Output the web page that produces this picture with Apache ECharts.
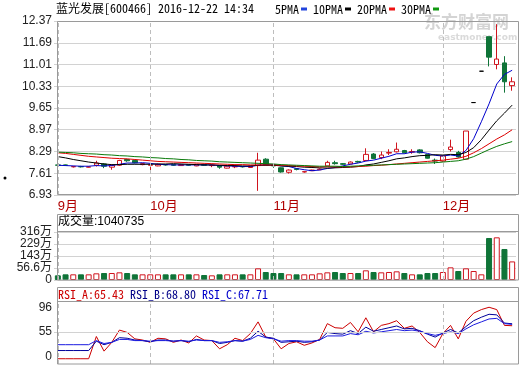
<!DOCTYPE html>
<html><head><meta charset="utf-8">
<script src="https://cdn.jsdelivr.net/npm/echarts@6/dist/echarts.min.js"></script>
<style>html,body{margin:0;padding:0;background:#fff}#c{width:520px;height:365px}</style>
</head><body><div id="c"></div>
<script>
const dates = [
 '2016-09-13','2016-09-14','2016-09-19','2016-09-20','2016-09-21','2016-09-22','2016-09-23','2016-09-26','2016-09-27','2016-09-28','2016-09-29','2016-09-30',
 '2016-10-10','2016-10-11','2016-10-12','2016-10-13','2016-10-14','2016-10-17','2016-10-18','2016-10-19','2016-10-20','2016-10-21','2016-10-24','2016-10-25','2016-10-26','2016-10-27','2016-10-28','2016-10-31',
 '2016-11-01','2016-11-02','2016-11-03','2016-11-04','2016-11-07','2016-11-08','2016-11-09','2016-11-10','2016-11-11','2016-11-14','2016-11-15','2016-11-16','2016-11-17','2016-11-18','2016-11-21','2016-11-22','2016-11-23','2016-11-24','2016-11-25','2016-11-28','2016-11-29','2016-11-30',
 '2016-12-09','2016-12-12','2016-12-13','2016-12-14','2016-12-15','2016-12-16','2016-12-19','2016-12-20','2016-12-21','2016-12-22'];
const openP  = [7.87,7.87,7.81,7.82,7.80,7.86,7.90,7.80,7.86,8.04, 8.01,7.88,7.86,7.84,7.88,7.88,7.85,7.88,7.84,7.88, 7.85,7.85,7.77,7.81,7.82,7.79,7.85,8.05,7.87,7.78, 7.64,7.75,7.65,7.69,7.72,7.84,7.94,7.91,7.90,7.98, 8.01,8.21,8.10,8.24,8.28,8.32,8.27,8.34,8.20,8.02, 7.99,8.35,8.26,8.05,9.82,10.80,11.88,11.01,11.06,10.35];
const closeP = [7.86,7.86,7.82,7.81,7.81,7.93,7.83,7.86,8.01,8.00, 7.94,7.91,7.87,7.89,7.87,7.86,7.88,7.86,7.89,7.86, 7.86,7.80,7.83,7.82,7.81,7.84,8.02,7.87,7.84,7.65, 7.71,7.73,7.66,7.71,7.74,7.95,7.91,7.89,7.96,7.96, 8.20,8.07,8.18,8.26,8.36,8.25,8.29,8.25,8.08,7.99, 8.15,8.43,8.12,8.93,9.82,10.80,11.24,11.18,10.47,10.47];
const lowP   = [7.84,7.84,7.79,7.79,7.79,7.82,7.77,7.72,7.84,7.97, 7.92,7.86,7.65,7.83,7.85,7.84,7.84,7.84,7.83,7.85, 7.80,7.75,7.76,7.77,7.79,7.78,7.06,7.86,7.78,7.63, 7.60,7.70,7.63,7.68,7.71,7.83,7.88,7.87,7.89,7.94, 7.99,8.05,8.05,8.18,8.26,8.23,8.22,8.23,8.07,7.90, 7.97,8.29,8.10,8.04,9.82,10.80,10.95,10.86,10.13,10.19];
const highP  = [7.88,7.88,7.84,7.84,7.83,8.00,7.92,7.88,8.03,8.06, 8.03,7.93,7.87,7.91,7.89,7.89,7.90,7.89,7.90,7.89, 7.88,7.86,7.84,7.84,7.83,7.85,8.25,8.08,7.88,7.79, 7.73,7.77,7.67,7.72,7.76,8.00,8.00,7.93,7.98,8.00, 8.39,8.24,8.29,8.36,8.57,8.34,8.36,8.36,8.21,8.07, 8.16,8.66,8.31,8.93,9.82,10.80,11.88,12.27,11.27,10.61];
const volume = [3.7,10.9,10.9,10.9,10.9,18.1,20.5,20.5,25.3,20.5, 10.9,10.9,10.9,10.9,10.9,10.9,10.9,10.9,10.9,6.1, 3.7,10.9,10.9,10.9,10.9,10.9,54.1,27.7,20.5,20.5, 10.9,10.9,10.9,10.9,18.1,25.3,27.7,20.5,20.5,20.5, 39.7,27.7,25.3,27.7,32.5,20.5,10.9,10.9,20.5,20.5, 27.7,61.3,34.9,54.1,34.9,10.9,272.8,277.6,193.5,104.0735];
const ma5  = [7.86,7.85,7.84,7.83,7.83,7.85,7.84,7.85,7.89,7.93, 7.93,7.94,7.92,7.89,7.88,7.87,7.87,7.87,7.87,7.87, 7.87,7.85,7.84,7.83,7.82,7.82,7.86,7.87,7.88,7.84, 7.82,7.76,7.72,7.69,7.71,7.76,7.79,7.84,7.89,7.93, 7.99,8.02,8.08,8.14,8.22,8.22,8.27,8.28,8.23,8.17, 8.15,8.18,8.15,8.32,8.69,9.22,9.78,10.40,10.70,10.83];
const ma10 = [8.13,8.09,8.04,8.00,7.96,7.93,7.90,7.88,7.88,7.89, 7.89,7.89,7.89,7.90,7.90,7.91,7.90,7.89,7.88,7.87, 7.87,7.86,7.85,7.85,7.84,7.84,7.86,7.86,7.86,7.84, 7.83,7.82,7.80,7.79,7.78,7.77,7.78,7.79,7.80,7.82, 7.87,7.90,7.95,8.00,8.06,8.09,8.13,8.16,8.17,8.19, 8.18,8.20,8.19,8.26,8.41,8.66,8.96,9.25,9.49,9.74];
const ma20 = [8.25,8.23,8.20,8.17,8.14,8.12,8.10,8.08,8.07,8.06, 8.04,8.02,8.00,7.98,7.97,7.96,7.95,7.94,7.93,7.92, 7.91,7.90,7.89,7.88,7.88,7.87,7.87,7.87,7.87,7.86, 7.85,7.84,7.83,7.82,7.81,7.81,7.81,7.81,7.81,7.82, 7.83,7.85,7.86,7.88,7.90,7.92,7.94,7.96,7.98,8.00, 8.02,8.05,8.08,8.14,8.25,8.38,8.53,8.68,8.81,8.97];
const ma30 = [8.27,8.26,8.25,8.23,8.22,8.21,8.19,8.18,8.16,8.15, 8.13,8.12,8.10,8.09,8.07,8.06,8.04,8.03,8.01,8.00, 7.99,7.97,7.96,7.95,7.94,7.93,7.92,7.91,7.90,7.88, 7.87,7.86,7.85,7.84,7.83,7.83,7.83,7.82,7.83,7.84, 7.85,7.86,7.87,7.88,7.89,7.90,7.91,7.92,7.93,7.94, 7.96,7.98,8.00,8.05,8.13,8.24,8.35,8.45,8.53,8.60];
const rsiA = [9,9,9,9,9,47,22,37,58,54, 43,41,37,44,43,37,41,36,48,41, 40,26,33,44,40,52,72,46,43,26, 35,38,32,36,42,69,62,61,71,55, 79,55,66,69,74,61,65,54,38,28, 52,66,43,73,87,93,97,93,66,65.43];
const rsiB = [23,23,23,23,23,39,33,37,45,44, 41,40,38,41,41,39,40,38,42,40, 40,35,37,40,39,44,56,46,44,37, 38,39,37,38,41,54,52,51,57,52, 63,56,59,62,65,60,61,57,51,46, 53,59,53,64,74,80,85,84,70,68.80];
const rsiC = [33,33,33,33,33,40,35,37,42,42, 40,40,39,40,40,39,40,39,41,40, 40,37,38,40,39,42,49,45,43,39, 40,40,39,39,41,48,48,48,52,50, 56,53,55,57,59,57,58,56,52,49, 52,55,52,60,67,72,77,78,69,67.71];
const priceTicks = [6.93,7.61,8.29,8.97,9.65,10.33,11.01,11.69,12.37];
const volTicks = [-29.9,56.6,143,229,316];
const rsiTicks = [0,55,96];
const monthStarts = ['2016-09-13','2016-10-10','2016-11-01','2016-12-09'];
const monthLabels = ['9月','10月','11月','12月'];

const RED = '#d0141e', GREEN = '#0f7438', GRID = '#d2d2d2', FRAME = '#9a9a9a';
const MONO = "'Noto Sans Mono CJK SC','DejaVu Sans Mono',monospace";
const SANS = "'Liberation Sans','Noto Sans CJK SC',sans-serif";

const candleData = dates.map((d, i) => {
  const o = openP[i], c = closeP[i];
  const item = { value: [o, c, lowP[i], highP[i]] };
  if (o === c) item.itemStyle = { color: '#000', borderColor: '#000', color0: '#000', borderColor0: '#000' };
  return item;
});
const volData = volume.map((v, i) => {
  const o = openP[i], c = closeP[i];
  const up = c > o || (c === o && i > 0 && c >= closeP[i - 1]);
  return { value: v, itemStyle: up ? { color: '#fff', borderColor: RED, borderWidth: 1 } : { color: GREEN, borderColor: GREEN, borderWidth: 1 } };
});
const monthIdx = monthStarts.map(d => dates.indexOf(d));
const monthMark = monthIdx.map(i => ({ xAxis: i }));
const dashStyle = { color: '#bdbdbd', type: [4, 3], width: 1 };

function mk(extra) {
  return { silent: true, symbol: ['none', 'none'], label: { show: false }, animation: false, lineStyle: dashStyle, data: extra };
}

const gl = 54, gw = 462;
const chart = echarts.init(document.getElementById('c'), null, { renderer: 'canvas' });
const xBase = { type: 'category', data: dates, boundaryGap: true, axisLine: { show: false }, axisTick: { show: false }, splitLine: { show: false } };
const yLabel = { color: '#222', fontSize: 12, fontFamily: SANS, margin: 2 };

chart.setOption({
  animation: false,
  backgroundColor: '#fff',
  title: [
    { text: '蓝光发展[600466] 2016-12-22 14:34', left: 56, top: 2, padding: 0,
      textStyle: { fontSize: 12, fontWeight: 'normal', color: '#000', fontFamily: MONO } },
    { text: '成交量:' + Math.round(volume[volume.length - 1] * 10000), left: 58, top: 216, padding: 0,
      textStyle: { fontSize: 12, fontWeight: 'normal', color: '#000', fontFamily: SANS } },
    { text: '{a|RSI_A:' + rsiA[59].toFixed(2) + '} {b|RSI_B:' + rsiB[59].toFixed(2) + '} {c|RSI_C:' + rsiC[59].toFixed(2) + '}',
      left: 58, top: 288, padding: 0,
      textStyle: { fontSize: 12, fontFamily: MONO, fontWeight: 'normal',
        rich: { a: { color: '#cc0000', fontFamily: MONO, fontSize: 12 }, b: { color: '#000088', fontFamily: MONO, fontSize: 12 }, c: { color: '#0000cc', fontFamily: MONO, fontSize: 12 } } } }
  ],
  legend: {
    data: ['5PMA', '10PMA', '20PMA', '30PMA'], left: 275, top: 3, padding: 0, align: 'right',
    icon: 'rect', itemWidth: 6, itemHeight: 3, itemGap: 6, selectedMode: false,
    textStyle: { fontSize: 12, fontFamily: MONO, color: '#000', padding: [0, -3, 0, 0] }
  },
  grid: [
    { left: gl, width: gw, top: 21, height: 174 },
    { left: gl, width: gw, top: 232, height: 48 },
    { left: gl, width: gw, top: 301, height: 63 }
  ],
  xAxis: [
    Object.assign({}, xBase, { gridIndex: 0, axisLabel: { show: true, interval: (idx, v) => monthStarts.indexOf(v) >= 0,
      formatter: v => monthLabels[monthStarts.indexOf(v)] || '', color: '#b00000', fontSize: 13, fontFamily: SANS, align: 'left', margin: 5 } }),
    Object.assign({}, xBase, { gridIndex: 1, axisLabel: { show: false } }),
    Object.assign({}, xBase, { gridIndex: 2, axisLabel: { show: false } })
  ],
  yAxis: [
    { type: 'value', gridIndex: 0, min: 6.93, max: 12.37, axisLine: { show: false },
      axisTick: { show: false, customValues: priceTicks },
      axisLabel: Object.assign({ customValues: priceTicks, formatter: v => v.toFixed(2) }, yLabel),
      splitLine: { show: true, lineStyle: { color: GRID, width: 1 } } },
    { type: 'value', gridIndex: 1, min: -29.9, max: 316, startValue: -29.9, axisLine: { show: false },
      axisTick: { show: false, customValues: volTicks },
      axisLabel: Object.assign({ customValues: volTicks, formatter: v => v < 0 ? '0' : v + '万' }, yLabel),
      splitLine: { show: true, lineStyle: { color: GRID, width: 1 } } },
    { type: 'value', gridIndex: 2, min: 0, max: 107.7, axisLine: { show: false },
      axisTick: { show: false, customValues: rsiTicks },
      axisLabel: Object.assign({ customValues: rsiTicks, formatter: v => v === 0 ? '{z|0}' : String(v),
        rich: { z: { padding: [0, 0, 14, 0], fontSize: 12, color: '#222', fontFamily: SANS } } }, yLabel),
      splitLine: { show: false } }
  ],
  series: [
    { name: 'K', type: 'candlestick', xAxisIndex: 0, yAxisIndex: 0, data: candleData, barWidth: 5,
      itemStyle: { color: '#fff', color0: GREEN, borderColor: RED, borderColor0: GREEN, borderWidth: 1 },
      markLine: mk(monthMark), z: 3 },
    { name: '5PMA', type: 'line', xAxisIndex: 0, yAxisIndex: 0, data: ma5, symbol: 'none', lineStyle: { color: '#0000cc', width: 1 }, itemStyle: { color: '#2244dd' }, z: 4 },
    { name: '10PMA', type: 'line', xAxisIndex: 0, yAxisIndex: 0, data: ma10, symbol: 'none', lineStyle: { color: '#000', width: 1 }, itemStyle: { color: '#000' }, z: 4 },
    { name: '20PMA', type: 'line', xAxisIndex: 0, yAxisIndex: 0, data: ma20, symbol: 'none', lineStyle: { color: '#dd0000', width: 1 }, itemStyle: { color: '#ee1111' }, z: 4 },
    { name: '30PMA', type: 'line', xAxisIndex: 0, yAxisIndex: 0, data: ma30, symbol: 'none', lineStyle: { color: '#0a7a0a', width: 1 }, itemStyle: { color: '#119911' }, z: 4 },
    { name: 'VOL', type: 'bar', xAxisIndex: 1, yAxisIndex: 1, data: volData, barWidth: 6, markLine: mk(monthMark), z: 3 },
    { name: 'RSI_A', type: 'line', xAxisIndex: 2, yAxisIndex: 2, data: rsiA, symbol: 'none', lineStyle: { color: '#cc0000', width: 1 },
      markLine: mk(monthMark.concat([{ yAxis: 55, lineStyle: { color: GRID, type: 'solid', width: 1 } }])) },
    { name: 'RSI_B', type: 'line', xAxisIndex: 2, yAxisIndex: 2, data: rsiB, symbol: 'none', lineStyle: { color: '#000099', width: 1 } },
    { name: 'RSI_C', type: 'line', xAxisIndex: 2, yAxisIndex: 2, data: rsiC, symbol: 'none', lineStyle: { color: '#1a1ae0', width: 1 } }
  ],
  graphic: [
    { type: 'text', left: 424, top: 13, z: 0, style: { text: '东方财富网', fill: '#d4d4d4', font: 'bold 17px "Noto Sans CJK SC", sans-serif' } },
    { type: 'text', left: 438, top: 33, z: 0, style: { text: 'eastmoney.com', fill: '#dadada', font: 'bold 9px "DejaVu Sans", sans-serif' } },
    { type: 'circle', shape: { cx: 5, cy: 178, r: 1.5 }, style: { fill: '#000' } },
    { type: 'rect', z: 10, shape: { x: 57.5, y: 21.5, width: 461, height: 173 }, style: { fill: 'none', stroke: FRAME, lineWidth: 1 } },
    { type: 'rect', z: 10, shape: { x: 57.5, y: 214.5, width: 461, height: 65.5 }, style: { fill: 'none', stroke: FRAME, lineWidth: 1 } },
    { type: 'line', z: 10, shape: { x1: 57.5, y1: 231.5, x2: 518.5, y2: 231.5 }, style: { stroke: FRAME, lineWidth: 1 } },
    { type: 'rect', z: 10, shape: { x: 57.5, y: 287.5, width: 461, height: 76.5 }, style: { fill: 'none', stroke: FRAME, lineWidth: 1 } },
    { type: 'line', z: 10, shape: { x1: 57.5, y1: 301.5, x2: 518.5, y2: 301.5 }, style: { stroke: FRAME, lineWidth: 1 } }
  ]
});
</script></body></html>
